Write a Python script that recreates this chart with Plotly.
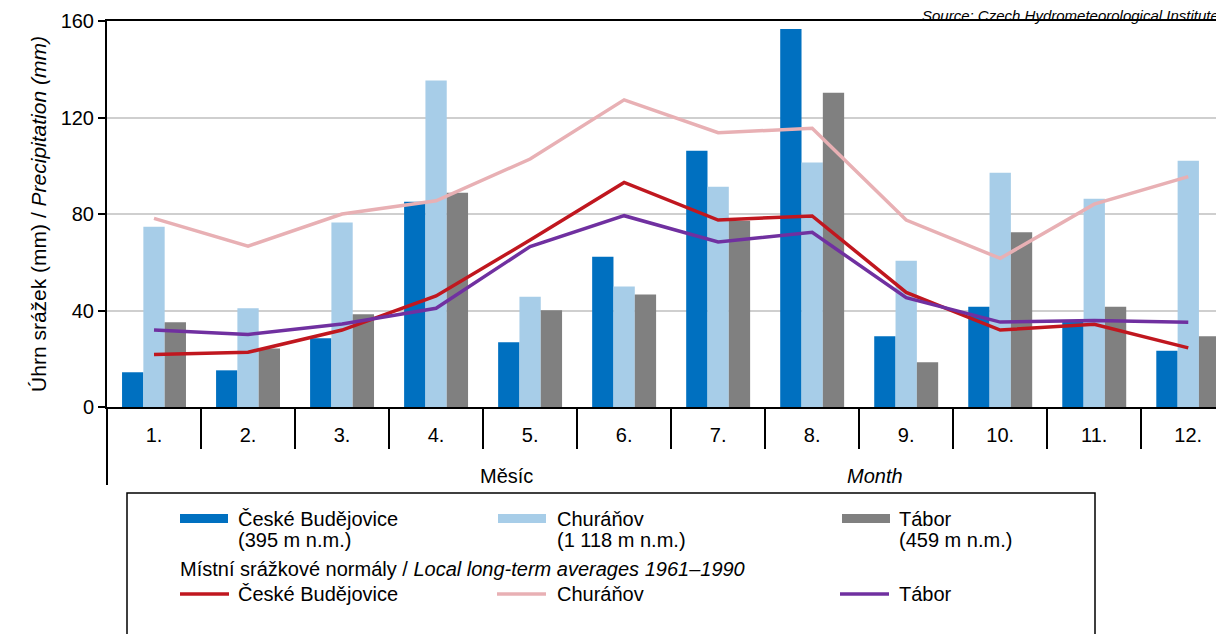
import plotly.graph_objects as go

months = ["1.", "2.", "3.", "4.", "5.", "6.", "7.", "8.", "9.", "10.", "11.", "12."]
cb_2013 = [14.4, 15.2, 28.5, 85.1, 26.8, 62.3, 106.2, 156.7, 29.3, 41.6, 35.5, 23.3]
ch_2013 = [74.7, 40.9, 76.5, 135.3, 45.7, 49.9, 91.3, 101.3, 60.6, 97.1, 86.3, 102.1]
ta_2013 = [35.1, 24.3, 38.4, 88.8, 40.1, 46.6, 77.2, 130.3, 18.5, 72.4, 41.6, 29.3]
cb_norm = [21.8, 22.7, 31.9, 46.0, 69.2, 93.1, 77.5, 79.2, 47.5, 31.9, 34.3, 24.5]
ch_norm = [78.2, 66.7, 80.0, 85.5, 102.8, 127.3, 113.7, 115.5, 77.5, 61.6, 84.1, 95.5]
ta_norm = [31.9, 30.1, 34.4, 40.9, 66.5, 79.3, 68.4, 72.4, 45.3, 35.2, 35.9, 35.1]
y_ticks = [0, 40, 80, 120, 160]

C_CB = "#0070C0"
C_CH = "#A7CDE8"
C_TA = "#808080"
C_CBN = "#C0171F"
C_CHN = "#E8B0B4"
C_TAN = "#7030A0"
FONT = "Liberation Sans, Arial, sans-serif"
FS = 20

OFF = 8  # browser body margin
W, H = 1224 - OFF, 634 - OFF
L, T, B_PX = 107, 21, 407   # page coords
PW = 1224 - L
PH = B_PX - T


def px(x):
    return (x - L) / PW


def py(y):
    return (B_PX - y) / PH


fig = go.Figure()
for vals, col in [(cb_2013, C_CB), (ch_2013, C_CH), (ta_2013, C_TA)]:
    fig.add_trace(go.Bar(x=months, y=vals, marker=dict(color=col, line=dict(width=0)),
                         showlegend=False))
for vals, col in [(cb_norm, C_CBN), (ch_norm, C_CHN), (ta_norm, C_TAN)]:
    fig.add_trace(go.Scatter(x=months, y=vals, mode="lines", line=dict(color=col, width=3.5),
                             showlegend=False))

shapes = []
shapes.append(dict(type="line", xref="paper", yref="paper", x0=0, x1=0, y0=0, y1=py(485),
                   line=dict(color="black", width=2)))
shapes.append(dict(type="rect", xref="paper", yref="paper", x0=px(127), x1=px(1095),
                   y0=py(493), y1=py(660), line=dict(color="black", width=1.5)))
for x0, col in [(180, C_CB), (498, C_CH), (842, C_TA)]:
    shapes.append(dict(type="rect", xref="paper", yref="paper", x0=px(x0), x1=px(x0 + 48),
                       y0=py(523), y1=py(514), fillcolor=col, line=dict(width=0)))
for x0, col in [(180, C_CBN), (497, C_CHN), (840, C_TAN)]:
    shapes.append(dict(type="line", xref="paper", yref="paper", x0=px(x0), x1=px(x0 + 49),
                       y0=py(594), y1=py(594), line=dict(color=col, width=3.5)))

ann = []


def text(x, y, s, anchor="left", italic=False, size=FS, yanchor="middle"):
    f = dict(family=FONT, size=size, color="black")
    if italic:
        f["style"] = "italic"
    ann.append(dict(x=px(x), y=py(y), xref="paper", yref="paper", text=s, showarrow=False,
                    xanchor=anchor, yanchor=yanchor, font=f, borderpad=0))


text(237, 519, "České Budějovice")
text(237, 540, "(395 m n.m.)")
text(556, 519, "Churáňov")
text(556, 540, "(1 118 m n.m.)")
text(898, 519, "Tábor")
text(898, 540, "(459 m n.m.)")
text(179, 569, "Místní srážkové normály / <i>Local long-term averages 1961–1990</i>")
text(237, 594, "České Budějovice")
text(556, 594, "Churáňov")
text(898, 594, "Tábor")
text(506, 476, "Měsíc", anchor="center")
text(875, 476, "Month", anchor="center", italic=True)
text(1220, 25, "Source: Czech Hydrometeorological Institute", anchor="right", italic=True,
     size=15, yanchor="bottom")

fig.update_layout(
    width=W, height=H,
    margin=dict(l=L - OFF, r=0, t=T - OFF, b=634 - B_PX),
    plot_bgcolor="white", paper_bgcolor="white",
    barmode="group", bargap=0.32, bargroupgap=0,
    font=dict(family=FONT, size=FS, color="black"),
    shapes=shapes, annotations=ann,
    showlegend=False,
)
fig.update_xaxes(type="category", range=[-0.5, 11.38], showline=True, mirror=True,
                 linecolor="black", linewidth=2, ticks="outside", tickson="boundaries",
                 ticklen=40, tickwidth=2, tickcolor="black", ticklabelstandoff=9,
                 showgrid=False, tickfont=dict(size=FS))
fig.update_yaxes(range=[0, 160], tickvals=y_ticks, showline=True, linecolor="black",
                 linewidth=2, ticks="outside", ticklen=7, tickwidth=2, tickcolor="black",
                 showgrid=True, gridcolor="#CFCFCF", gridwidth=1.5, zeroline=False,
                 tickfont=dict(size=FS),
                 title=dict(text="Úhrn srážek (mm) / <i>Precipitation (mm)</i>", standoff=8,
                            font=dict(size=21)))

fig.write_html("out.html")
